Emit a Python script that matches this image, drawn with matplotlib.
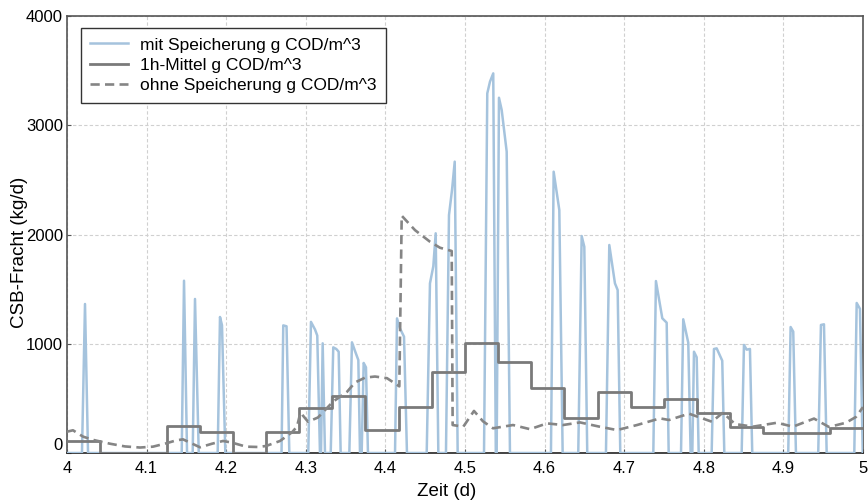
import numpy as np
import matplotlib.pyplot as plt
import matplotlib.transforms as mtransforms

plt.rcParams['font.family'] = ['Liberation Sans', 'DejaVu Sans']

# Zeitachse in Tagen
# mit Speicherung: kurze Pumpstoesse, dazwischen 0
t_mit = [4.0,
         4.0188, 4.0226, 4.0264,
         4.1441, 4.1470, 4.1508,
         4.1579, 4.1608, 4.1655,
         4.1893, 4.1922, 4.1947, 4.1989,
         4.2695, 4.2717, 4.2758, 4.2793,
         4.3031, 4.3065, 4.3116, 4.3144, 4.3178,
         4.3191, 4.3212, 4.3241,
         4.3313, 4.3345, 4.3383, 4.3413, 4.3438,
         4.3547, 4.3580, 4.3618, 4.3660, 4.3681,
         4.3702, 4.3727, 4.3756, 4.3781,
         4.4121, 4.4146, 4.4183, 4.4234, 4.4271,
         4.4519, 4.4560, 4.4602, 4.4632, 4.4665,
         4.4761, 4.4799, 4.4837, 4.4871, 4.4908,
         4.5239, 4.5280, 4.5314, 4.5355, 4.5387,
         4.5398, 4.5427, 4.5461, 4.5524, 4.5565,
         4.6080, 4.6114, 4.6185, 4.6227,
         4.6423, 4.6466, 4.6499, 4.6536,
         4.6771, 4.6813, 4.6884, 4.6918, 4.6951,
         4.7366, 4.7399, 4.7479, 4.7534, 4.7559,
         4.7714, 4.7742, 4.7805, 4.7835,
         4.7856, 4.7877, 4.7911, 4.7936,
         4.8099, 4.8128, 4.8162, 4.8232, 4.8258,
         4.8476, 4.8505, 4.8539, 4.8580, 4.8609,
         4.9061, 4.9091, 4.9124, 4.9158,
         4.9438, 4.9472, 4.9510, 4.9544,
         4.9891, 4.9921, 4.9962, 4.9997]
v_mit = [0,
         0, 1364, 0,
         0, 1577, 0,
         0, 1410, 0,
         0, 1245, 1170, 0,
         0, 1168, 1160, 0,
         0, 1200, 1130, 1075, 0,
         0, 1004, 0,
         0, 967, 952, 927, 0,
         0, 1013, 934, 851, 0,
         0, 824, 784, 0,
         0, 1232, 1140, 1065, 0,
         0, 1553, 1709, 2011, 0,
         0, 2178, 2407, 2667, 0,
         0, 3292, 3399, 3475, 0,
         0, 3252, 3140, 2758, 0,
         0, 2575, 2224, 0,
         0, 1986, 1888, 0,
         0, 1904, 1553, 1492, 0,
         0, 1574, 1233, 1193, 0,
         0, 1224, 1010, 0,
         0, 927, 876, 0,
         0, 952, 958, 845, 0,
         0, 989, 946, 952, 0,
         0, 1153, 1111, 0,
         0, 1172, 1178, 0,
         0, 1373, 1320, 0]

# Stundenmittel (Beginn jeder Stunde)
mittel_1h = [110, 0, 0, 250, 195, 0, 195, 415, 522, 210, 424, 739,
             1004, 836, 592, 317, 555, 424, 494, 363, 235, 186, 186, 226]

# ohne Speicherung
t_ohne = [4.0, 4.0075, 4.0201, 4.0327, 4.0540, 4.0729, 4.0917, 4.1080,
          4.1244, 4.1369, 4.1457, 4.1545, 4.1671, 4.1822, 4.1960, 4.2073,
          4.2249, 4.2399, 4.2500, 4.2676, 4.2827, 4.2889, 4.2933, 4.3028,
          4.3153, 4.3342, 4.3518, 4.3618, 4.3744, 4.3869, 4.4020, 4.4175,
          4.4205, 4.4372, 4.4560, 4.4686, 4.4833, 4.4845, 4.4979, 4.5113,
          4.5226, 4.5352, 4.5603, 4.5817, 4.6030, 4.6231, 4.6445, 4.6696,
          4.6910, 4.7161, 4.7450, 4.7563, 4.7814, 4.8103, 4.8241, 4.8392,
          4.8618, 4.8920, 4.9121, 4.9385, 4.9573, 4.9786, 4.9912, 5.0]
v_ohne = [195, 208, 150, 120, 85, 60, 50, 58,
          88, 115, 125, 95, 52, 85, 110, 95,
          58, 55, 64, 110, 190, 241, 370, 286,
          325, 470, 560, 645, 690, 700, 685, 610,
          2172, 2040, 1934, 1879, 1849, 256, 241, 385,
          290, 226, 256, 218, 271, 256, 280, 240,
          210, 256, 317, 302, 360, 286, 370, 265,
          241, 277, 241, 315, 238, 277, 330, 420]

t_1h = 4 + np.arange(len(mittel_1h) + 1) / 24.0
v_1h = mittel_1h + [mittel_1h[-1]]

fig = plt.figure(figsize=(8.68, 5.04), dpi=100)
ax = fig.add_axes([0.0772, 0.1012, 0.917, 0.867])

ax.plot(t_mit, v_mit, color='#a5c3dd', lw=1.8, label='mit Speicherung g COD/m^3', zorder=3)
ax.plot(t_1h, v_1h, color='#7a7a7a', lw=2.0, drawstyle='steps-post',
        label='1h-Mittel g COD/m^3', zorder=4)
ax.plot(t_ohne, v_ohne, color='#858585', lw=1.9, ls=(0, (3.5, 2.0)),
        label='ohne Speicherung g COD/m^3', zorder=4)

ax.set_xlim(4, 5)
ax.set_ylim(0, 4000)
ax.set_xticks(np.arange(4, 5.01, 0.1))
ax.set_xticklabels(['4', '4.1', '4.2', '4.3', '4.4', '4.5', '4.6', '4.7', '4.8', '4.9', '5'])
ax.set_yticks([0, 1000, 2000, 3000, 4000])
ax.grid(True, color='#d0d0d0', ls=(0, (3, 2)), lw=0.8)
ax.set_axisbelow(True)
ax.tick_params(labelsize=12, length=3, direction='in', color='#555555', pad=3)
ax.tick_params(axis='x', pad=6)
for s in ax.spines.values():
    s.set_color('#555555')
    s.set_linewidth(1.2)
ax.spines['bottom'].set_color('#222222')

# "0" etwas nach oben versetzt
fig.canvas.draw()
lbl0 = ax.get_yticklabels()[0]
lbl0.set_transform(lbl0.get_transform() + mtransforms.ScaledTranslation(0, 9 / 100, fig.dpi_scale_trans))

ax.set_xlabel('Zeit (d)', fontsize=13.5)
ax.set_ylabel('CSB-Fracht (kg/d)', fontsize=13.5)
ax.xaxis.set_label_coords(0.477, -0.068)
ax.yaxis.set_label_coords(-0.049, 0.46)

leg = ax.legend(loc='upper left', bbox_to_anchor=(0.017, 0.973), fontsize=12.5,
                handlelength=2.2, fancybox=False, framealpha=1, edgecolor='#333333',
                borderpad=0.55, labelspacing=0.3, handletextpad=0.7, borderaxespad=0)
leg.get_frame().set_linewidth(1.0)

fig.savefig('out.png', dpi=100)
